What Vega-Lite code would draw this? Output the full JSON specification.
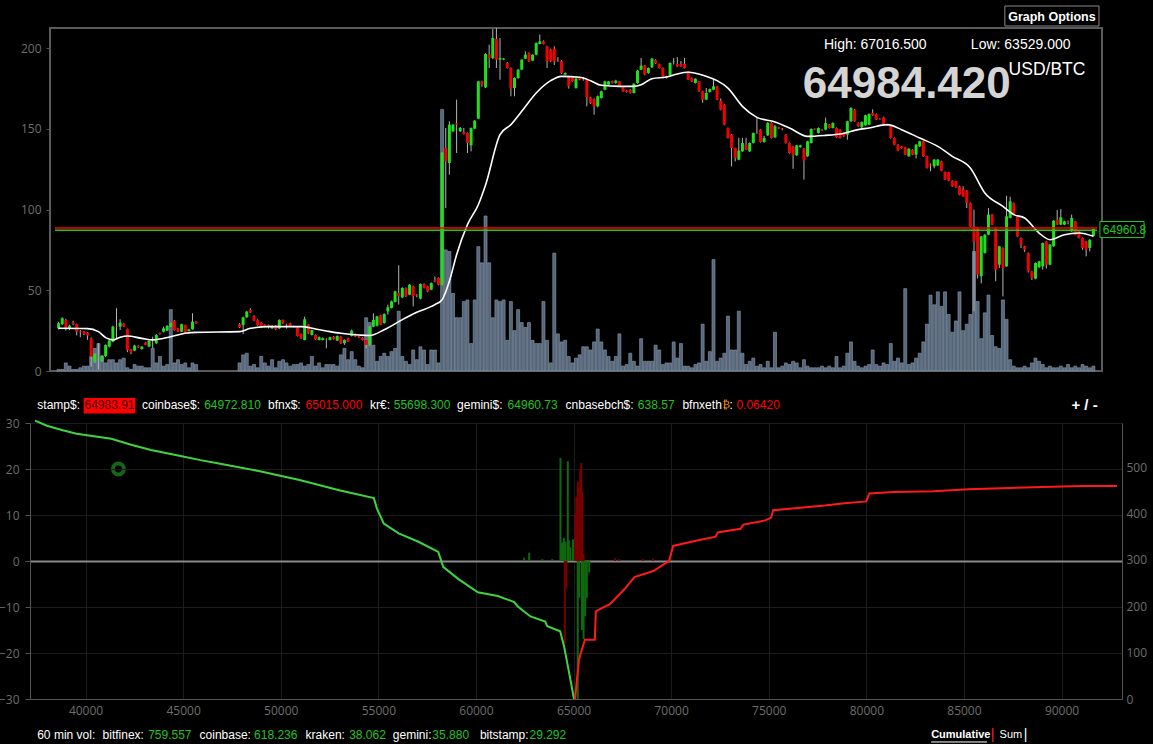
{
"$schema": "https://vega.github.io/schema/vega-lite/v6.json",
"background": "#000000",
"padding": {"left": -2, "top": 4, "right": 11, "bottom": 6},
"center": true,
"bounds": "flush",
"spacing": 52,
"config": {"view": {"stroke": null}, "axis": {"labelFont": "Open Sans", "labelFontSize": 12, "labelColor": "#6e6e6e", "gridColor": "#1c1c1c", "domainColor": "#555555", "tickColor": "#555555"}},
"datasets": {
"candles": [
{"m":-70,"o":63963,"h":64030,"l":63950,"c":64014,"v":1},
{"m":-65,"o":64005,"h":64075,"l":63995,"c":64065,"v":1},
{"m":-60,"o":64048,"h":64060,"l":63940,"c":63956,"v":5},
{"m":-55,"o":63956,"h":64000,"l":63945,"c":63990,"v":3},
{"m":-50,"o":64020,"h":64040,"l":63995,"c":64005,"v":1},
{"m":-45,"o":64005,"h":64010,"l":63890,"c":63929,"v":1},
{"m":-40,"o":63930,"h":63946,"l":63872,"c":63925,"v":2},
{"m":-35,"o":63929,"h":63935,"l":63895,"c":63905,"v":3},
{"m":-30,"o":63920,"h":63925,"l":63845,"c":63890,"v":3},
{"m":-25,"o":63862,"h":63870,"l":63573,"c":63675,"v":9},
{"m":-20,"o":63624,"h":63710,"l":63610,"c":63702,"v":14},
{"m":-15,"o":63692,"h":63811,"l":63545,"c":63690,"v":17},
{"m":-10,"o":63630,"h":63690,"l":63620,"c":63685,"v":9},
{"m":-5,"o":63682,"h":63800,"l":63670,"c":63794,"v":5},
{"m":0,"o":63777,"h":63845,"l":63770,"c":63838,"v":7},
{"m":5,"o":63828,"h":63990,"l":63820,"c":63980,"v":7},
{"m":10,"o":63985,"h":64167,"l":63860,"c":63980,"v":5},
{"m":15,"o":63980,"h":64055,"l":63946,"c":64020,"v":7},
{"m":20,"o":64010,"h":64015,"l":63975,"c":63980,"v":8},
{"m":25,"o":63956,"h":63960,"l":63720,"c":63743,"v":2},
{"m":30,"o":63750,"h":63755,"l":63700,"c":63716,"v":1},
{"m":35,"o":63736,"h":63795,"l":63730,"c":63787,"v":4},
{"m":40,"o":63784,"h":63790,"l":63765,"c":63770,"v":3},
{"m":45,"o":63753,"h":63780,"l":63745,"c":63777,"v":3},
{"m":50,"o":63818,"h":63822,"l":63790,"c":63794,"v":2},
{"m":55,"o":63777,"h":63840,"l":63770,"c":63835,"v":2},
{"m":60,"o":63830,"h":63878,"l":63760,"c":63828,"v":14},
{"m":65,"o":63811,"h":63905,"l":63805,"c":63895,"v":5},
{"m":70,"o":63915,"h":63920,"l":63900,"c":63905,"v":9},
{"m":75,"o":63929,"h":63980,"l":63920,"c":63963,"v":3},
{"m":80,"o":63940,"h":63995,"l":63935,"c":63987,"v":4},
{"m":85,"o":63980,"h":64020,"l":63975,"c":64014,"v":38},
{"m":90,"o":64041,"h":64048,"l":63940,"c":63946,"v":5},
{"m":95,"o":63963,"h":63968,"l":63925,"c":63929,"v":7},
{"m":100,"o":63929,"h":64010,"l":63925,"c":64005,"v":4},
{"m":105,"o":63997,"h":64000,"l":63905,"c":63912,"v":5},
{"m":110,"o":63936,"h":63958,"l":63930,"c":63953,"v":2},
{"m":115,"o":63953,"h":64116,"l":63948,"c":64031,"v":5},
{"m":120,"o":64031,"h":64035,"l":64010,"c":64014,"v":4},
{"m":180,"o":64005,"h":64015,"l":63965,"c":63973,"v":5},
{"m":185,"o":63997,"h":64080,"l":63905,"c":64075,"v":10},
{"m":190,"o":64075,"h":64140,"l":64070,"c":64133,"v":11},
{"m":195,"o":64150,"h":64167,"l":64118,"c":64123,"v":3},
{"m":200,"o":64089,"h":64095,"l":64035,"c":64041,"v":4},
{"m":205,"o":64048,"h":64055,"l":63990,"c":63997,"v":2},
{"m":210,"o":64020,"h":64025,"l":63965,"c":63973,"v":9},
{"m":215,"o":63997,"h":64003,"l":63975,"c":63980,"v":5},
{"m":220,"o":63995,"h":64000,"l":63960,"c":63980,"v":3},
{"m":225,"o":63963,"h":63995,"l":63955,"c":63987,"v":7},
{"m":230,"o":63990,"h":63995,"l":63945,"c":63953,"v":2},
{"m":235,"o":63963,"h":64055,"l":63955,"c":64048,"v":6},
{"m":240,"o":64048,"h":64052,"l":64008,"c":64014,"v":7},
{"m":245,"o":64000,"h":64010,"l":63960,"c":63995,"v":5},
{"m":250,"o":64014,"h":64020,"l":63975,"c":63980,"v":3},
{"m":255,"o":63985,"h":63990,"l":63970,"c":63975,"v":4},
{"m":260,"o":63973,"h":63978,"l":63880,"c":63885,"v":4},
{"m":265,"o":63905,"h":63910,"l":63855,"c":63862,"v":5},
{"m":270,"o":63845,"h":64082,"l":63840,"c":64055,"v":3},
{"m":275,"o":64000,"h":64005,"l":63905,"c":63912,"v":4},
{"m":280,"o":63895,"h":63950,"l":63890,"c":63946,"v":9},
{"m":285,"o":63895,"h":63900,"l":63845,"c":63851,"v":3},
{"m":290,"o":63845,"h":63880,"l":63840,"c":63872,"v":5},
{"m":295,"o":63845,"h":63870,"l":63840,"c":63862,"v":2},
{"m":300,"o":63855,"h":63862,"l":63760,"c":63852,"v":4},
{"m":305,"o":63845,"h":63878,"l":63840,"c":63872,"v":4},
{"m":310,"o":63878,"h":63885,"l":63848,"c":63851,"v":4},
{"m":315,"o":63838,"h":63890,"l":63835,"c":63885,"v":3},
{"m":320,"o":63878,"h":63882,"l":63805,"c":63811,"v":10},
{"m":325,"o":63811,"h":63850,"l":63795,"c":63845,"v":14},
{"m":330,"o":63862,"h":63868,"l":63824,"c":63828,"v":7},
{"m":335,"o":63885,"h":63950,"l":63880,"c":63940,"v":12},
{"m":340,"o":63905,"h":63910,"l":63873,"c":63878,"v":7},
{"m":345,"o":63880,"h":63885,"l":63865,"c":63870,"v":3},
{"m":350,"o":63868,"h":63872,"l":63840,"c":63845,"v":2},
{"m":355,"o":63845,"h":63850,"l":63760,"c":63794,"v":33},
{"m":360,"o":63794,"h":63990,"l":63785,"c":63980,"v":30},
{"m":365,"o":63980,"h":64116,"l":63975,"c":64048,"v":16},
{"m":370,"o":63990,"h":64090,"l":63980,"c":64085,"v":6},
{"m":375,"o":64095,"h":64100,"l":63995,"c":64000,"v":9},
{"m":380,"o":64017,"h":64115,"l":64010,"c":64109,"v":11},
{"m":385,"o":64136,"h":64204,"l":64102,"c":64177,"v":9},
{"m":390,"o":64170,"h":64245,"l":64165,"c":64237,"v":12},
{"m":395,"o":64231,"h":64345,"l":64225,"c":64339,"v":14},
{"m":400,"o":64322,"h":64604,"l":64204,"c":64288,"v":37},
{"m":405,"o":64278,"h":64380,"l":64270,"c":64373,"v":9},
{"m":410,"o":64373,"h":64378,"l":64282,"c":64288,"v":6},
{"m":415,"o":64305,"h":64412,"l":64300,"c":64407,"v":4},
{"m":420,"o":64390,"h":64395,"l":64187,"c":64288,"v":13},
{"m":425,"o":64300,"h":64310,"l":64280,"c":64295,"v":7},
{"m":430,"o":64265,"h":64420,"l":64258,"c":64414,"v":15},
{"m":435,"o":64414,"h":64420,"l":64368,"c":64373,"v":13},
{"m":440,"o":64390,"h":64395,"l":64330,"c":64339,"v":4},
{"m":445,"o":64356,"h":64430,"l":64350,"c":64424,"v":13},
{"m":450,"o":64450,"h":64490,"l":64430,"c":64440,"v":13},
{"m":455,"o":64475,"h":64480,"l":64400,"c":64407,"v":5},
{"m":460,"o":64407,"h":65755,"l":64400,"c":65746,"v":162},
{"m":465,"o":65796,"h":66000,"l":65186,"c":65661,"v":75},
{"m":470,"o":65644,"h":66068,"l":65525,"c":66034,"v":74},
{"m":475,"o":65966,"h":66040,"l":65960,"c":66034,"v":48},
{"m":480,"o":66048,"h":66288,"l":65746,"c":66034,"v":33},
{"m":485,"o":65966,"h":66010,"l":65960,"c":66000,"v":33},
{"m":490,"o":65960,"h":66000,"l":65932,"c":65939,"v":43},
{"m":495,"o":65949,"h":65955,"l":65746,"c":65847,"v":44},
{"m":500,"o":65823,"h":66005,"l":65762,"c":66000,"v":17},
{"m":505,"o":65993,"h":66080,"l":65988,"c":66075,"v":44},
{"m":510,"o":66095,"h":66480,"l":66090,"c":66474,"v":77},
{"m":515,"o":66474,"h":66480,"l":66420,"c":66440,"v":67},
{"m":520,"o":66413,"h":66760,"l":66406,"c":66752,"v":96},
{"m":525,"o":66745,"h":66847,"l":66610,"c":66711,"v":67},
{"m":530,"o":66711,"h":67006,"l":66700,"c":66915,"v":33},
{"m":535,"o":66905,"h":67016,"l":66610,"c":66695,"v":44},
{"m":540,"o":66695,"h":66915,"l":66491,"c":66711,"v":43},
{"m":545,"o":66695,"h":66710,"l":66690,"c":66705,"v":44},
{"m":550,"o":66661,"h":66670,"l":66605,"c":66610,"v":19},
{"m":555,"o":66610,"h":66615,"l":66322,"c":66400,"v":43},
{"m":560,"o":66406,"h":66515,"l":66322,"c":66508,"v":25},
{"m":565,"o":66508,"h":66600,"l":66500,"c":66593,"v":38},
{"m":570,"o":66593,"h":66700,"l":66588,"c":66695,"v":30},
{"m":575,"o":66705,"h":66780,"l":66700,"c":66745,"v":27},
{"m":580,"o":66762,"h":66768,"l":66670,"c":66678,"v":30},
{"m":585,"o":66685,"h":66750,"l":66680,"c":66745,"v":19},
{"m":590,"o":66745,"h":66870,"l":66740,"c":66864,"v":17},
{"m":595,"o":66854,"h":66950,"l":66850,"c":66881,"v":17},
{"m":600,"o":66881,"h":66890,"l":66850,"c":66854,"v":43},
{"m":605,"o":66830,"h":66835,"l":66610,"c":66678,"v":19},
{"m":610,"o":66796,"h":66805,"l":66670,"c":66678,"v":5},
{"m":615,"o":66806,"h":66830,"l":66640,"c":66678,"v":73},
{"m":620,"o":66680,"h":66720,"l":66670,"c":66675,"v":23},
{"m":625,"o":66678,"h":66690,"l":66550,"c":66559,"v":18},
{"m":630,"o":66542,"h":66565,"l":66535,"c":66559,"v":19},
{"m":635,"o":66525,"h":66530,"l":66400,"c":66423,"v":9},
{"m":640,"o":66508,"h":66515,"l":66468,"c":66474,"v":5},
{"m":645,"o":66406,"h":66508,"l":66400,"c":66501,"v":8},
{"m":650,"o":66515,"h":66520,"l":66485,"c":66491,"v":10},
{"m":655,"o":66505,"h":66520,"l":66480,"c":66500,"v":15},
{"m":660,"o":66491,"h":66500,"l":66220,"c":66312,"v":15},
{"m":665,"o":66312,"h":66318,"l":66245,"c":66254,"v":13},
{"m":670,"o":66295,"h":66300,"l":66135,"c":66220,"v":18},
{"m":675,"o":66220,"h":66330,"l":66210,"c":66322,"v":26},
{"m":680,"o":66305,"h":66380,"l":66298,"c":66373,"v":18},
{"m":685,"o":66389,"h":66480,"l":66382,"c":66474,"v":13},
{"m":690,"o":66440,"h":66478,"l":66435,"c":66474,"v":9},
{"m":695,"o":66474,"h":66480,"l":66452,"c":66457,"v":6},
{"m":700,"o":66457,"h":66490,"l":66450,"c":66481,"v":9},
{"m":705,"o":66474,"h":66478,"l":66418,"c":66423,"v":23},
{"m":710,"o":66423,"h":66428,"l":66368,"c":66373,"v":3},
{"m":715,"o":66379,"h":66383,"l":66360,"c":66366,"v":4},
{"m":720,"o":66389,"h":66395,"l":66350,"c":66356,"v":11},
{"m":725,"o":66356,"h":66455,"l":66350,"c":66450,"v":6},
{"m":730,"o":66457,"h":66590,"l":66450,"c":66583,"v":3},
{"m":735,"o":66593,"h":66712,"l":66588,"c":66634,"v":20},
{"m":740,"o":66634,"h":66640,"l":66536,"c":66542,"v":6},
{"m":745,"o":66559,"h":66615,"l":66552,"c":66610,"v":6},
{"m":750,"o":66617,"h":66712,"l":66610,"c":66705,"v":6},
{"m":755,"o":66691,"h":66698,"l":66650,"c":66657,"v":16},
{"m":760,"o":66650,"h":66655,"l":66605,"c":66610,"v":13},
{"m":765,"o":66610,"h":66615,"l":66520,"c":66525,"v":4},
{"m":770,"o":66525,"h":66530,"l":66503,"c":66508,"v":5},
{"m":775,"o":66535,"h":66667,"l":66530,"c":66661,"v":5},
{"m":780,"o":66670,"h":66712,"l":66645,"c":66675,"v":18},
{"m":785,"o":66650,"h":66720,"l":66622,"c":66627,"v":8},
{"m":790,"o":66650,"h":66680,"l":66622,"c":66627,"v":17},
{"m":795,"o":66654,"h":66712,"l":66605,"c":66610,"v":3},
{"m":800,"o":66576,"h":66580,"l":66486,"c":66491,"v":3},
{"m":805,"o":66508,"h":66512,"l":66468,"c":66474,"v":2},
{"m":810,"o":66457,"h":66505,"l":66452,"c":66501,"v":4},
{"m":815,"o":66474,"h":66478,"l":66368,"c":66373,"v":5},
{"m":820,"o":66373,"h":66378,"l":66256,"c":66288,"v":29},
{"m":825,"o":66288,"h":66406,"l":66283,"c":66356,"v":6},
{"m":830,"o":66366,"h":66400,"l":66360,"c":66396,"v":12},
{"m":835,"o":66389,"h":66491,"l":66384,"c":66423,"v":69},
{"m":840,"o":66423,"h":66428,"l":66282,"c":66288,"v":6},
{"m":845,"o":66278,"h":66300,"l":66180,"c":66186,"v":8},
{"m":850,"o":66237,"h":66242,"l":66028,"c":66034,"v":11},
{"m":855,"o":66000,"h":66005,"l":65893,"c":65898,"v":34},
{"m":860,"o":65932,"h":65940,"l":65610,"c":65796,"v":13},
{"m":865,"o":65796,"h":65800,"l":65660,"c":65695,"v":13},
{"m":870,"o":65678,"h":65900,"l":65672,"c":65770,"v":37},
{"m":875,"o":65762,"h":65900,"l":65758,"c":65847,"v":11},
{"m":880,"o":65830,"h":65900,"l":65775,"c":65779,"v":4},
{"m":885,"o":65762,"h":65853,"l":65755,"c":65847,"v":6},
{"m":890,"o":65847,"h":65955,"l":65842,"c":65949,"v":8},
{"m":895,"o":65950,"h":66101,"l":65940,"c":65945,"v":3},
{"m":900,"o":65983,"h":65988,"l":65852,"c":65857,"v":4},
{"m":905,"o":65857,"h":65920,"l":65850,"c":65898,"v":2},
{"m":910,"o":65925,"h":66060,"l":65920,"c":66051,"v":6},
{"m":915,"o":66051,"h":66058,"l":65892,"c":65898,"v":2},
{"m":920,"o":65905,"h":66030,"l":65900,"c":66017,"v":24},
{"m":925,"o":66007,"h":66012,"l":65988,"c":65993,"v":2},
{"m":930,"o":65990,"h":66000,"l":65975,"c":65985,"v":3},
{"m":935,"o":65932,"h":65937,"l":65842,"c":65847,"v":5},
{"m":940,"o":65847,"h":65852,"l":65740,"c":65746,"v":4},
{"m":945,"o":65813,"h":65818,"l":65585,"c":65722,"v":6},
{"m":950,"o":65722,"h":65828,"l":65716,"c":65823,"v":5},
{"m":955,"o":65806,"h":65828,"l":65800,"c":65823,"v":2},
{"m":960,"o":65789,"h":65795,"l":65475,"c":65668,"v":7},
{"m":965,"o":65712,"h":65870,"l":65706,"c":65864,"v":3},
{"m":970,"o":65847,"h":65995,"l":65842,"c":65990,"v":2},
{"m":975,"o":65990,"h":65995,"l":65980,"c":65985,"v":2},
{"m":980,"o":65949,"h":66005,"l":65944,"c":66000,"v":2},
{"m":985,"o":65983,"h":65990,"l":65970,"c":65975,"v":3},
{"m":990,"o":65983,"h":66105,"l":65978,"c":66051,"v":2},
{"m":995,"o":66034,"h":66040,"l":65995,"c":66000,"v":3},
{"m":1000,"o":66000,"h":66057,"l":65995,"c":66051,"v":2},
{"m":1005,"o":66000,"h":66005,"l":65900,"c":65905,"v":9},
{"m":1010,"o":65983,"h":65988,"l":65893,"c":65898,"v":2},
{"m":1015,"o":65949,"h":65953,"l":65910,"c":65915,"v":3},
{"m":1020,"o":65932,"h":66074,"l":65880,"c":66068,"v":11},
{"m":1025,"o":66068,"h":66210,"l":66062,"c":66203,"v":18},
{"m":1030,"o":66186,"h":66192,"l":66062,"c":66068,"v":6},
{"m":1035,"o":66051,"h":66057,"l":66012,"c":66017,"v":3},
{"m":1040,"o":66007,"h":66067,"l":66000,"c":66061,"v":2},
{"m":1045,"o":66027,"h":66135,"l":66022,"c":66129,"v":3},
{"m":1050,"o":66034,"h":66148,"l":66028,"c":66142,"v":4},
{"m":1055,"o":66152,"h":66190,"l":66124,"c":66129,"v":13},
{"m":1060,"o":66142,"h":66148,"l":66080,"c":66085,"v":4},
{"m":1065,"o":66095,"h":66100,"l":66085,"c":66090,"v":3},
{"m":1070,"o":66108,"h":66114,"l":66028,"c":66034,"v":5},
{"m":1075,"o":66030,"h":66035,"l":66020,"c":66025,"v":4},
{"m":1080,"o":66017,"h":66022,"l":65892,"c":65898,"v":17},
{"m":1085,"o":65898,"h":65903,"l":65825,"c":65830,"v":6},
{"m":1090,"o":65830,"h":65835,"l":65764,"c":65769,"v":8},
{"m":1095,"o":65813,"h":65818,"l":65791,"c":65796,"v":5},
{"m":1100,"o":65803,"h":65808,"l":65724,"c":65729,"v":51},
{"m":1105,"o":65712,"h":65795,"l":65706,"c":65789,"v":4},
{"m":1110,"o":65779,"h":65784,"l":65724,"c":65729,"v":5},
{"m":1115,"o":65729,"h":65835,"l":65690,"c":65830,"v":8},
{"m":1120,"o":65813,"h":65870,"l":65808,"c":65864,"v":11},
{"m":1125,"o":65864,"h":65870,"l":65706,"c":65712,"v":18},
{"m":1130,"o":65712,"h":65717,"l":65588,"c":65593,"v":29},
{"m":1135,"o":65627,"h":65640,"l":65560,"c":65620,"v":47},
{"m":1140,"o":65610,"h":65684,"l":65590,"c":65678,"v":41},
{"m":1145,"o":65620,"h":65684,"l":65614,"c":65678,"v":49},
{"m":1150,"o":65661,"h":65666,"l":65561,"c":65566,"v":40},
{"m":1155,"o":65552,"h":65557,"l":65470,"c":65475,"v":49},
{"m":1160,"o":65549,"h":65554,"l":65459,"c":65464,"v":35},
{"m":1165,"o":65464,"h":65469,"l":65402,"c":65407,"v":24},
{"m":1170,"o":65458,"h":65463,"l":65392,"c":65397,"v":31},
{"m":1175,"o":65407,"h":65412,"l":65317,"c":65322,"v":49},
{"m":1180,"o":65373,"h":65407,"l":65300,"c":65305,"v":25},
{"m":1185,"o":65363,"h":65368,"l":65186,"c":65237,"v":29},
{"m":1190,"o":65237,"h":65242,"l":64995,"c":65000,"v":35},
{"m":1195,"o":65000,"h":65170,"l":64136,"c":64847,"v":74},
{"m":1200,"o":64983,"h":64988,"l":64470,"c":64509,"v":43},
{"m":1205,"o":64492,"h":64903,"l":64420,"c":64898,"v":20},
{"m":1210,"o":64729,"h":64920,"l":64724,"c":64915,"v":36},
{"m":1215,"o":64915,"h":65186,"l":64910,"c":65119,"v":47},
{"m":1220,"o":65119,"h":65124,"l":65012,"c":65017,"v":22},
{"m":1225,"o":64983,"h":64988,"l":64441,"c":64559,"v":15},
{"m":1230,"o":64610,"h":64802,"l":64576,"c":64797,"v":14},
{"m":1235,"o":64780,"h":64785,"l":64288,"c":64576,"v":44},
{"m":1240,"o":64593,"h":65310,"l":64588,"c":65102,"v":32},
{"m":1245,"o":65085,"h":65300,"l":65080,"c":65254,"v":7},
{"m":1250,"o":65237,"h":65242,"l":65114,"c":65119,"v":3},
{"m":1255,"o":65102,"h":65107,"l":64893,"c":64898,"v":2},
{"m":1260,"o":64881,"h":64886,"l":64780,"c":64814,"v":2},
{"m":1265,"o":64797,"h":64802,"l":64740,"c":64763,"v":3},
{"m":1270,"o":64729,"h":64734,"l":64530,"c":64542,"v":2},
{"m":1275,"o":64542,"h":64547,"l":64455,"c":64475,"v":5},
{"m":1280,"o":64468,"h":64633,"l":64462,"c":64627,"v":8},
{"m":1285,"o":64583,"h":64650,"l":64578,"c":64644,"v":6},
{"m":1290,"o":64593,"h":64835,"l":64560,"c":64830,"v":4},
{"m":1295,"o":64847,"h":64852,"l":64570,"c":64610,"v":2},
{"m":1300,"o":64610,"h":64820,"l":64605,"c":64814,"v":3},
{"m":1305,"o":64797,"h":65063,"l":64792,"c":65058,"v":2},
{"m":1310,"o":65068,"h":65165,"l":65012,"c":65017,"v":2},
{"m":1315,"o":65017,"h":65175,"l":65012,"c":65092,"v":3},
{"m":1320,"o":65017,"h":65056,"l":65012,"c":65051,"v":2},
{"m":1325,"o":65050,"h":65060,"l":65020,"c":65045,"v":4},
{"m":1330,"o":64949,"h":65119,"l":64944,"c":65085,"v":2},
{"m":1335,"o":65051,"h":65056,"l":64910,"c":64915,"v":3},
{"m":1340,"o":64949,"h":64954,"l":64876,"c":64881,"v":2},
{"m":1345,"o":64881,"h":64886,"l":64762,"c":64780,"v":4},
{"m":1350,"o":64847,"h":64852,"l":64695,"c":64763,"v":3},
{"m":1355,"o":64780,"h":64869,"l":64745,"c":64864,"v":2},
{"m":1360,"o":64902,"h":64980,"l":64897,"c":64975,"v":3}
],
"ma": [
{"m":-70,"p":63963},{"m":-30,"p":63960},{"m":-15,"p":63929},{"m":-5,"p":63868},{"m":5,"p":63845},{"m":15,"p":63872},{"m":25,"p":63885},{"m":45,"p":63861},{"m":60,"p":63845},{"m":85,"p":63878},{"m":105,"p":63912},{"m":120,"p":63922},{"m":180,"p":63929},{"m":195,"p":63963},{"m":220,"p":63980},{"m":245,"p":63980},{"m":265,"p":63980},{"m":285,"p":63956},{"m":300,"p":63936},{"m":320,"p":63912},{"m":345,"p":63895},{"m":360,"p":63890},{"m":380,"p":63949},{"m":405,"p":64051},{"m":425,"p":64126},{"m":450,"p":64204},{"m":460,"p":64254},{"m":470,"p":64441},{"m":480,"p":64712},{"m":495,"p":65017},{"m":510,"p":65220},{"m":520,"p":65420},{"m":540,"p":65932},{"m":555,"p":66034},{"m":570,"p":66170},{"m":590,"p":66356},{"m":610,"p":66481},{"m":625,"p":66525},{"m":650,"p":66515},{"m":665,"p":66481},{"m":680,"p":66434},{"m":705,"p":66423},{"m":725,"p":66423},{"m":735,"p":66440},{"m":750,"p":66501},{"m":770,"p":66518},{"m":785,"p":66549},{"m":800,"p":66566},{"m":825,"p":66525},{"m":840,"p":66481},{"m":855,"p":66406},{"m":875,"p":66220},{"m":895,"p":66108},{"m":920,"p":66061},{"m":940,"p":66000},{"m":965,"p":65915},{"m":990,"p":65925},{"m":1010,"p":65939},{"m":1035,"p":65983},{"m":1050,"p":66000},{"m":1075,"p":66034},{"m":1095,"p":65983},{"m":1120,"p":65898},{"m":1145,"p":65813},{"m":1165,"p":65712},{"m":1190,"p":65593},{"m":1210,"p":65339},{"m":1235,"p":65203},{"m":1250,"p":65119},{"m":1265,"p":65085},{"m":1285,"p":64932},{"m":1300,"p":64864},{"m":1320,"p":64915},{"m":1340,"p":64932},{"m":1360,"p":64898}
],
"bids": [
{"p":37411,"c":600},{"p":38020,"c":589},{"p":38781,"c":580},{"p":39543,"c":572},{"p":41320,"c":561},{"p":42335,"c":548},{"p":43350,"c":537},{"p":44873,"c":524},{"p":45888,"c":515},{"p":46903,"c":507},{"p":48934,"c":491},{"p":50964,"c":472},{"p":52994,"c":450},{"p":54771,"c":433},{"p":54923,"c":411},{"p":55279,"c":378},{"p":56040,"c":357},{"p":57055,"c":339},{"p":58071,"c":317},{"p":58324,"c":285},{"p":59086,"c":259},{"p":60101,"c":230},{"p":61116,"c":222},{"p":61964,"c":209},{"p":62131,"c":200},{"p":62791,"c":178},{"p":63552,"c":167},{"p":63654,"c":157},{"p":64314,"c":146},{"p":64517,"c":113},{"p":64771,"c":57},{"p":65025,"c":0}
],
"asks": [
{"p":65075,"c":0},{"p":65278,"c":85},{"p":65430,"c":107},{"p":65583,"c":128},{"p":66091,"c":128},{"p":66141,"c":189},{"p":66547,"c":198},{"p":66852,"c":204},{"p":67106,"c":215},{"p":67614,"c":237},{"p":68121,"c":263},{"p":69086,"c":276},{"p":69898,"c":298},{"p":70101,"c":330},{"p":71268,"c":341},{"p":72283,"c":350},{"p":72385,"c":359},{"p":73552,"c":367},{"p":73705,"c":376},{"p":74821,"c":385},{"p":75126,"c":391},{"p":75227,"c":407},{"p":76344,"c":411},{"p":77867,"c":417},{"p":78882,"c":422},{"p":79999,"c":426},{"p":80151,"c":443},{"p":81420,"c":446},{"p":83451,"c":448},{"p":85227,"c":452},{"p":86496,"c":454},{"p":89034,"c":457},{"p":91065,"c":459},{"p":92841,"c":459}
],
"bars": [
{"p":62472,"v":0.7,"s":"bid"},{"p":62726,"v":1.8,"s":"bid"},{"p":63401,"v":0.4,"s":"bid"},{"p":63908,"v":0.4,"s":"bid"},{"p":64330,"v":22.4,"s":"bid"},{"p":64416,"v":4,"s":"bid"},{"p":64503,"v":5,"s":"bid"},{"p":64588,"v":4.2,"s":"bid"},{"p":64706,"v":21.7,"s":"bid"},{"p":64757,"v":4.5,"s":"bid"},{"p":64838,"v":3,"s":"bid"},{"p":64975,"v":4.7,"s":"bid"},
{"p":65092,"v":10,"s":"ask"},{"p":65144,"v":14,"s":"ask"},{"p":65215,"v":17.3,"s":"ask"},{"p":65262,"v":16,"s":"ask"},{"p":65345,"v":20,"s":"ask"},{"p":65398,"v":21.3,"s":"ask"},{"p":65449,"v":15,"s":"ask"},{"p":65516,"v":1.5,"s":"ask"},{"p":67123,"v":0.6,"s":"ask"},{"p":67346,"v":0.4,"s":"ask"},{"p":68564,"v":0.4,"s":"ask"},{"p":69072,"v":0.5,"s":"ask"},{"p":69914,"v":0.5,"s":"ask"},
{"p":64551,"v":-18,"s":"ask"},{"p":64638,"v":-6,"s":"ask"},
{"p":65215,"v":-30,"s":"bid"},{"p":65296,"v":-8,"s":"bid"},{"p":65432,"v":-15,"s":"bid"},{"p":65516,"v":-17,"s":"bid"},{"p":65598,"v":-12,"s":"bid"},{"p":65680,"v":-8,"s":"bid"},{"p":65800,"v":-2.5,"s":"bid"}
]
},
"vconcat": [
{
"width": 1052, "height": 343,
"view": {"stroke": "#5a5a5a", "strokeWidth": 2},
"layer": [
{"data": {"name": "candles"}, "mark": {"type": "bar", "size": 3, "color": "#56667a", "stroke": "#8d9db0", "strokeWidth": 0.6},
 "encoding": {
   "x": {"field": "m", "type": "quantitative", "scale": {"domain": [-75, 1365], "nice": false, "zero": false},
     "axis": {"values": [0,120,240,360,480,600,720,840,960,1080,1200,1320], "labelExpr": "(datum.value < 600 ? '0' : '') + (datum.value/60) + ':00'", "grid": true, "ticks": false, "domain": false, "labelPadding": 10, "title": null}},
   "y": {"field": "v", "type": "quantitative", "scale": {"domain": [0, 212.4], "nice": false},
   "axis": {"orient": "left", "values": [0,50,100,150,200], "grid": false, "ticks": true, "tickSize": 4, "domain": false, "labelPadding": 5, "title": null}}}},
{"layer": [
 {"data": {"name": "candles"}, "mark": {"type": "rule", "color": "#b4b4b4", "strokeWidth": 1},
  "encoding": {"x": {"field": "m", "type": "quantitative", "axis": null},
   "y": {"field": "l", "type": "quantitative", "scale": {"domain": [63529, 67016.5], "nice": false, "zero": false},
    "axis": {"orient": "right", "values": [64000,64500,65000,65500,66000,66500,67000], "format": "d", "grid": true, "ticks": false, "domain": false, "labelPadding": 7, "labelFontSize": 13, "title": null}},
   "y2": {"field": "h"}}},
 {"data": {"name": "candles"}, "mark": {"type": "bar", "size": 3},
  "encoding": {"x": {"field": "m", "type": "quantitative", "axis": null}, "y": {"field": "o", "type": "quantitative", "axis": null}, "y2": {"field": "c"},
   "color": {"condition": {"test": "datum.c >= datum.o", "value": "#1ee01e"}, "value": "#f00000"}}},
 {"data": {"name": "ma"}, "mark": {"type": "line", "color": "#ffffff", "strokeWidth": 1.6, "interpolate": "monotone"},
  "encoding": {"x": {"field": "m", "type": "quantitative", "axis": null}, "y": {"field": "p", "type": "quantitative", "axis": null}}},
 {"data": {"values": [{}]}, "mark": {"type": "rule", "color": "#ff0000", "strokeWidth": 1.5},
  "encoding": {"x": {"datum": -75, "axis": null}, "x2": {"datum": 1365}, "y": {"datum": 64984, "axis": null}}},
 {"data": {"values": [{}]}, "mark": {"type": "rule", "color": "#1ec81e", "strokeWidth": 1.5},
  "encoding": {"x": {"datum": -75, "axis": null}, "x2": {"datum": 1365}, "y": {"datum": 64960.8, "axis": null}}},
 {"data": {"values": [{}]}, "mark": {"type": "rect", "fill": "#000000", "stroke": "#1ec81e", "strokeWidth": 1},
  "encoding": {"x": {"datum": 1369, "axis": null}, "x2": {"datum": 1430}, "y": {"datum": 65049, "axis": null}, "y2": {"datum": 64886}}},
 {"data": {"values": [{"t": "64960.8"}]}, "mark": {"type": "text", "align": "left", "baseline": "middle", "font": "Liberation Sans", "fontSize": 12, "color": "#1ec81e"},
  "encoding": {"text": {"field": "t"}, "x": {"datum": 1373, "axis": null}, "y": {"datum": 64958, "axis": null}}},
 {"data": {"values": [{"t": "High: 67016.500"}]}, "mark": {"type": "text", "align": "left", "baseline": "alphabetic", "font": "Liberation Sans", "fontSize": 14, "color": "#ffffff"},
  "encoding": {"text": {"field": "t"}, "x": {"datum": 987.6, "axis": null}, "y": {"datum": 66798, "axis": null}}},
 {"data": {"values": [{"t": "Low: 63529.000"}]}, "mark": {"type": "text", "align": "left", "baseline": "alphabetic", "font": "Liberation Sans", "fontSize": 14, "color": "#ffffff"},
  "encoding": {"text": {"field": "t"}, "x": {"datum": 1190.7, "axis": null}, "y": {"datum": 66798, "axis": null}}},
 {"data": {"values": [{"t": "64984.420"}]}, "mark": {"type": "text", "align": "left", "baseline": "alphabetic", "font": "Liberation Sans", "fontWeight": "bold", "fontSize": 44, "color": "#d4d4d4"},
  "encoding": {"text": {"field": "t"}, "x": {"datum": 958.4, "axis": null}, "y": {"datum": 66302, "axis": null}}},
 {"data": {"values": [{"t": "USD/BTC"}]}, "mark": {"type": "text", "align": "left", "baseline": "alphabetic", "font": "Liberation Sans", "fontSize": 17.5, "color": "#ffffff"},
  "encoding": {"text": {"field": "t"}, "x": {"datum": 1242.8, "axis": null}, "y": {"datum": 66538, "axis": null}}},
 {"data": {"values": [{}]}, "mark": {"type": "rect", "fill": "#000000", "stroke": "#8a8a8a", "strokeWidth": 1},
  "encoding": {"x": {"datum": 1237.7, "axis": null}, "x2": {"datum": 1367.7}, "y": {"datum": 67240, "axis": null}, "y2": {"datum": 67037}}},
 {"data": {"values": [{"t": "Graph Options"}]}, "mark": {"type": "text", "align": "center", "baseline": "alphabetic", "font": "Liberation Sans", "fontWeight": "bold", "fontSize": 12.5, "color": "#ffffff"},
  "encoding": {"text": {"field": "t"}, "x": {"datum": 1302.7, "axis": null}, "y": {"datum": 67088, "axis": null}}},
 {"data": {"values": [{"t": "+ / -"}]}, "mark": {"type": "text", "align": "center", "baseline": "middle", "font": "Liberation Sans", "fontWeight": "bold", "fontSize": 15, "color": "#ffffff"},
  "encoding": {"text": {"field": "t"}, "x": {"datum": 1347.8, "axis": null}, "y": {"datum": 63183, "axis": null}}},
 {"data": {"values": [{}]}, "mark": {"type": "rect", "fill": "#ff0000"},
  "encoding": {"x": {"datum": -35.4, "axis": null}, "x2": {"datum": 35.9}, "y": {"datum": 63254, "axis": null}, "y2": {"datum": 63097}}},
 {"data": {"values": [{"t": "64983.91"}]}, "mark": {"type": "text", "align": "center", "baseline": "middle", "font": "Liberation Sans", "fontSize": 12, "color": "#4a0000"},
  "encoding": {"text": {"field": "t"}, "x": {"datum": 0.3, "axis": null}, "y": {"datum": 63183, "axis": null}}},
 {"data": {"values": [{"t": "stamp$:"}]}, "mark": {"type": "text", "align": "left", "baseline": "middle", "font": "Liberation Sans", "fontSize": 12, "color": "#ffffff"},
  "encoding": {"text": {"field": "t"}, "x": {"datum": -99.4, "axis": null}, "y": {"datum": 63183, "axis": null}}},
 {"data": {"values": [{"t": "coinbase$:"}]}, "mark": {"type": "text", "align": "left", "baseline": "middle", "font": "Liberation Sans", "fontSize": 12, "color": "#ffffff"},
  "encoding": {"text": {"field": "t"}, "x": {"datum": 45.2, "axis": null}, "y": {"datum": 63183, "axis": null}}},
 {"data": {"values": [{"t": "64972.810"}]}, "mark": {"type": "text", "align": "left", "baseline": "middle", "font": "Liberation Sans", "fontSize": 12, "color": "#22c322"},
  "encoding": {"text": {"field": "t"}, "x": {"datum": 131.1, "axis": null}, "y": {"datum": 63183, "axis": null}}},
 {"data": {"values": [{"t": "bfnx$:"}]}, "mark": {"type": "text", "align": "left", "baseline": "middle", "font": "Liberation Sans", "fontSize": 12, "color": "#ffffff"},
  "encoding": {"text": {"field": "t"}, "x": {"datum": 219.3, "axis": null}, "y": {"datum": 63183, "axis": null}}},
 {"data": {"values": [{"t": "65015.000"}]}, "mark": {"type": "text", "align": "left", "baseline": "middle", "font": "Liberation Sans", "fontSize": 12, "color": "#ff0000"},
  "encoding": {"text": {"field": "t"}, "x": {"datum": 271.3, "axis": null}, "y": {"datum": 63183, "axis": null}}},
 {"data": {"values": [{"t": "kr€:"}]}, "mark": {"type": "text", "align": "left", "baseline": "middle", "font": "Liberation Sans", "fontSize": 12, "color": "#ffffff"},
  "encoding": {"text": {"field": "t"}, "x": {"datum": 360.3, "axis": null}, "y": {"datum": 63183, "axis": null}}},
 {"data": {"values": [{"t": "55698.300"}]}, "mark": {"type": "text", "align": "left", "baseline": "middle", "font": "Liberation Sans", "fontSize": 12, "color": "#22c322"},
  "encoding": {"text": {"field": "t"}, "x": {"datum": 393.1, "axis": null}, "y": {"datum": 63183, "axis": null}}},
 {"data": {"values": [{"t": "gemini$:"}]}, "mark": {"type": "text", "align": "left", "baseline": "middle", "font": "Liberation Sans", "fontSize": 12, "color": "#ffffff"},
  "encoding": {"text": {"field": "t"}, "x": {"datum": 480.7, "axis": null}, "y": {"datum": 63183, "axis": null}}},
 {"data": {"values": [{"t": "64960.73"}]}, "mark": {"type": "text", "align": "left", "baseline": "middle", "font": "Liberation Sans", "fontSize": 12, "color": "#22c322"},
  "encoding": {"text": {"field": "t"}, "x": {"datum": 550.5, "axis": null}, "y": {"datum": 63183, "axis": null}}},
 {"data": {"values": [{"t": "cnbasebch$:"}]}, "mark": {"type": "text", "align": "left", "baseline": "middle", "font": "Liberation Sans", "fontSize": 12, "color": "#ffffff"},
  "encoding": {"text": {"field": "t"}, "x": {"datum": 630.6, "axis": null}, "y": {"datum": 63183, "axis": null}}},
 {"data": {"values": [{"t": "638.57"}]}, "mark": {"type": "text", "align": "left", "baseline": "middle", "font": "Liberation Sans", "fontSize": 12, "color": "#22c322"},
  "encoding": {"text": {"field": "t"}, "x": {"datum": 730.5, "axis": null}, "y": {"datum": 63183, "axis": null}}},
 {"data": {"values": [{"t": "bfnxeth"}]}, "mark": {"type": "text", "align": "left", "baseline": "middle", "font": "Liberation Sans", "fontSize": 12, "color": "#ffffff"},
  "encoding": {"text": {"field": "t"}, "x": {"datum": 792.1, "axis": null}, "y": {"datum": 63183, "axis": null}}},
 {"data": {"values": [{"t": "₿"}]}, "mark": {"type": "text", "align": "left", "baseline": "middle", "font": "DejaVu Sans", "fontSize": 11, "color": "#f7931a"},
  "encoding": {"text": {"field": "t"}, "x": {"datum": 847.5, "axis": null}, "y": {"datum": 63183, "axis": null}}},
 {"data": {"values": [{"t": ":"}]}, "mark": {"type": "text", "align": "left", "baseline": "middle", "font": "Liberation Sans", "fontSize": 12, "color": "#ffffff"},
  "encoding": {"text": {"field": "t"}, "x": {"datum": 857.1, "axis": null}, "y": {"datum": 63183, "axis": null}}},
 {"data": {"values": [{"t": "0.06420"}]}, "mark": {"type": "text", "align": "left", "baseline": "middle", "font": "Liberation Sans", "fontSize": 12, "color": "#ff0000"},
  "encoding": {"text": {"field": "t"}, "x": {"datum": 866.7, "axis": null}, "y": {"datum": 63183, "axis": null}}},
 {"data": {"values": [{}]}, "mark": {"type": "point", "shape": "circle", "filled": false, "size": 120, "strokeWidth": 4, "color": "#15651a", "opacity": 1},
  "encoding": {"x": {"datum": 12.6, "axis": null}, "y": {"datum": 62533, "axis": null}}},
 {"data": {"values": [{"t": "60 min vol:"}]}, "mark": {"type": "text", "align": "left", "baseline": "middle", "font": "Liberation Sans", "fontSize": 12, "color": "#ffffff"},
  "encoding": {"text": {"field": "t"}, "x": {"datum": -99.6, "axis": null}, "y": {"datum": 59828, "axis": null}}},
 {"data": {"values": [{"t": "bitfinex:"}]}, "mark": {"type": "text", "align": "left", "baseline": "middle", "font": "Liberation Sans", "fontSize": 12, "color": "#ffffff"},
  "encoding": {"text": {"field": "t"}, "x": {"datum": -9.3, "axis": null}, "y": {"datum": 59828, "axis": null}}},
 {"data": {"values": [{"t": "759.557"}]}, "mark": {"type": "text", "align": "left", "baseline": "middle", "font": "Liberation Sans", "fontSize": 12, "color": "#22c322"},
  "encoding": {"text": {"field": "t"}, "x": {"datum": 53.7, "axis": null}, "y": {"datum": 59828, "axis": null}}},
 {"data": {"values": [{"t": "coinbase:"}]}, "mark": {"type": "text", "align": "left", "baseline": "middle", "font": "Liberation Sans", "fontSize": 12, "color": "#ffffff"},
  "encoding": {"text": {"field": "t"}, "x": {"datum": 124.8, "axis": null}, "y": {"datum": 59828, "axis": null}}},
 {"data": {"values": [{"t": "618.236"}]}, "mark": {"type": "text", "align": "left", "baseline": "middle", "font": "Liberation Sans", "fontSize": 12, "color": "#22c322"},
  "encoding": {"text": {"field": "t"}, "x": {"datum": 200.1, "axis": null}, "y": {"datum": 59828, "axis": null}}},
 {"data": {"values": [{"t": "kraken:"}]}, "mark": {"type": "text", "align": "left", "baseline": "middle", "font": "Liberation Sans", "fontSize": 12, "color": "#ffffff"},
  "encoding": {"text": {"field": "t"}, "x": {"datum": 271.3, "axis": null}, "y": {"datum": 59828, "axis": null}}},
 {"data": {"values": [{"t": "38.062"}]}, "mark": {"type": "text", "align": "left", "baseline": "middle", "font": "Liberation Sans", "fontSize": 12, "color": "#22c322"},
  "encoding": {"text": {"field": "t"}, "x": {"datum": 331.5, "axis": null}, "y": {"datum": 59828, "axis": null}}},
 {"data": {"values": [{"t": "gemini:"}]}, "mark": {"type": "text", "align": "left", "baseline": "middle", "font": "Liberation Sans", "fontSize": 12, "color": "#ffffff"},
  "encoding": {"text": {"field": "t"}, "x": {"datum": 391.8, "axis": null}, "y": {"datum": 59828, "axis": null}}},
 {"data": {"values": [{"t": "35.880"}]}, "mark": {"type": "text", "align": "left", "baseline": "middle", "font": "Liberation Sans", "fontSize": 12, "color": "#22c322"},
  "encoding": {"text": {"field": "t"}, "x": {"datum": 446.5, "axis": null}, "y": {"datum": 59828, "axis": null}}},
 {"data": {"values": [{"t": "bitstamp:"}]}, "mark": {"type": "text", "align": "left", "baseline": "middle", "font": "Liberation Sans", "fontSize": 12, "color": "#ffffff"},
  "encoding": {"text": {"field": "t"}, "x": {"datum": 512.2, "axis": null}, "y": {"datum": 59828, "axis": null}}},
 {"data": {"values": [{"t": "29.292"}]}, "mark": {"type": "text", "align": "left", "baseline": "middle", "font": "Liberation Sans", "fontSize": 12, "color": "#22c322"},
  "encoding": {"text": {"field": "t"}, "x": {"datum": 580.7, "axis": null}, "y": {"datum": 59828, "axis": null}}},
 {"data": {"values": [{"t": "Cumulative"}]}, "mark": {"type": "text", "align": "left", "baseline": "middle", "font": "Liberation Sans", "fontWeight": "bold", "fontSize": 11, "color": "#ffffff"},
  "encoding": {"text": {"field": "t"}, "x": {"datum": 1135.8, "axis": null}, "y": {"datum": 59833, "axis": null}}},
 {"data": {"values": [{}]}, "mark": {"type": "rule", "color": "#ffffff", "strokeWidth": 1},
  "encoding": {"x": {"datum": 1135.8, "axis": null}, "x2": {"datum": 1213}, "y": {"datum": 59757, "axis": null}}},
 {"data": {"values": [{"t": "|"}]}, "mark": {"type": "text", "align": "center", "baseline": "middle", "font": "Liberation Sans", "fontSize": 14, "color": "#ff2020"},
  "encoding": {"text": {"field": "t"}, "x": {"datum": 1220.7, "axis": null}, "y": {"datum": 59823, "axis": null}}},
 {"data": {"values": [{"t": "Sum"}]}, "mark": {"type": "text", "align": "left", "baseline": "middle", "font": "Liberation Sans", "fontSize": 11, "color": "#ffffff"},
  "encoding": {"text": {"field": "t"}, "x": {"datum": 1230.4, "axis": null}, "y": {"datum": 59833, "axis": null}}},
 {"data": {"values": [{"t": "|"}]}, "mark": {"type": "text", "align": "center", "baseline": "middle", "font": "Liberation Sans", "fontSize": 14, "color": "#ffffff"},
  "encoding": {"text": {"field": "t"}, "x": {"datum": 1266.4, "axis": null}, "y": {"datum": 59823, "axis": null}}}
]}
],
"resolve": {"scale": {"y": "independent"}}
},
{
"width": 1092, "height": 276,
"encoding": {"x": {"field": "p", "type": "quantitative", "scale": {"domain": [37411, 92841], "nice": false, "zero": false},
  "axis": {"values": [40000,45000,50000,55000,60000,65000,70000,75000,80000,85000,90000], "format": "d", "grid": true, "ticks": false, "domain": true, "labelPadding": 6, "title": null}}},
"layer": [
 {"data": {"name": "bars"}, "mark": {"type": "bar", "size": 2},
  "encoding": {
   "y": {"field": "v", "type": "quantitative", "scale": {"domain": [-30, 30], "nice": false},
    "axis": {"orient": "left", "values": [-30,-20,-10,0,10,20,30], "grid": true, "ticks": true, "tickSize": 5, "domain": true, "labelPadding": 6, "title": null,
      "gridColor": {"condition": {"test": "datum.value === 0", "value": "#8a8a8a"}, "value": "#1c1c1c"},
      "gridWidth": {"condition": {"test": "datum.value === 0", "value": 2}, "value": 1}}},
   "color": {"condition": {"test": "datum.s == 'bid'", "value": "#0e6a0e"}, "value": "#7a0000"}}},
 {"layer": [
  {"data": {"name": "bids"}, "mark": {"type": "line", "color": "#3fd43f", "strokeWidth": 2},
   "encoding": {"y": {"field": "c", "type": "quantitative", "scale": {"domain": [0, 595], "nice": false},
     "axis": {"orient": "right", "values": [0,100,200,300,400,500], "grid": false, "ticks": false, "domain": true, "labelPadding": 4, "title": null}}}},
  {"data": {"name": "asks"}, "mark": {"type": "line", "color": "#ff1a1a", "strokeWidth": 2},
   "encoding": {"y": {"field": "c", "type": "quantitative"}}}
 ]}
],
"resolve": {"scale": {"y": "independent"}}
}
]
}
